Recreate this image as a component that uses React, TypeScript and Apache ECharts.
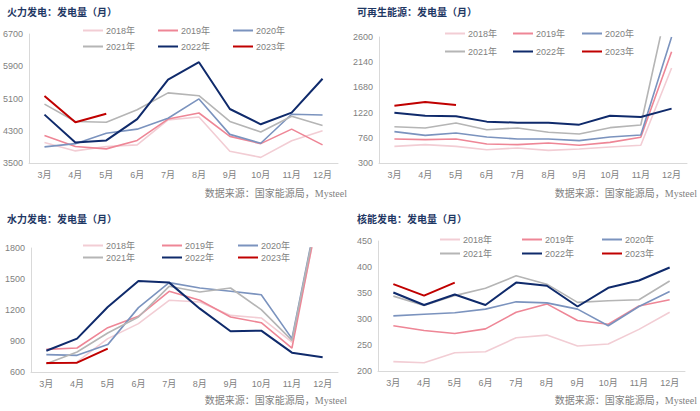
import React, { useEffect, useRef } from "react";
import * as echarts from "echarts";

const months = ["3月", "4月", "5月", "6月", "7月", "8月", "9月", "10月", "11月", "12月"];
const years = ["2018年", "2019年", "2020年", "2021年", "2022年", "2023年"];

// 火力发电
const thermal2018 = [4010, 3800, 3910, 3950, 4570, 4640, 3790, 3640, 4050, 4300];
const thermal2019 = [4180, 3910, 3850, 4060, 4590, 4740, 4160, 3980, 4340, 3950];
const thermal2020 = [3900, 3980, 4240, 4340, 4610, 5090, 4210, 3990, 4710, 4690];
const thermal2021 = [4960, 4530, 4510, 4820, 5240, 5170, 4530, 4270, 4660, 4430];
const thermal2022 = [4700, 4010, 4060, 4590, 5570, 6000, 4840, 4460, 4750, 5590];
const thermal2023 = [5160, 4510, 4720];

// 可再生能源
const renew2018 = [604, 635, 604, 543, 574, 531, 556, 592, 623, 2034];
const renew2019 = [738, 726, 738, 647, 635, 665, 623, 677, 769, 2330];
const renew2020 = [872, 805, 848, 775, 738, 738, 708, 775, 811, 2600];
const renew2021 = [963, 939, 1030, 908, 939, 860, 829, 945, 994, 3540];
const renew2022 = [1219, 1164, 1152, 1055, 1036, 1036, 1000, 1164, 1140, 1292];
const renew2023 = [1347, 1414, 1359];

// 水力发电
const hydro2018 = [680, 697, 923, 1068, 1294, 1277, 1148, 1123, 890, 2300];
const hydro2019 = [819, 832, 1029, 1139, 1381, 1294, 1132, 1077, 832, 2350];
const hydro2020 = [768, 761, 865, 1223, 1465, 1413, 1381, 1348, 923, 2400];
const hydro2021 = [681, 794, 977, 1132, 1429, 1374, 1413, 1203, 906, 2380];
const hydro2022 = [806, 923, 1229, 1481, 1465, 1213, 994, 1000, 787, 742];
const hydro2023 = [687, 690, 826];

// 核能发电
const nuclear2018 = [218, 216, 235, 237, 264, 269, 248, 252, 280, 313];
const nuclear2019 = [287, 278, 272, 281, 313, 329, 297, 290, 325, 337];
const nuclear2020 = [306, 309, 312, 319, 333, 331, 319, 287, 324, 353];
const nuclear2021 = [344, 326, 345, 359, 383, 367, 332, 335, 337, 373];
const nuclear2022 = [351, 327, 347, 327, 370, 364, 324, 360, 374, 399];
const nuclear2023 = [367, 345, 370];

const panelTitles = ["火力发电：发电量（月）", "可再生能源：发电量（月）", "水力发电：发电量（月）", "核能发电：发电量（月）"];
const yMin = [3500, 300, 600, 200];
const yMax = [6700, 2600, 1800, 450];
const yInterval = [800, 460, 300, 50];
const sourceText = "数据来源：国家能源局，Mysteel";

const panelData = [
  [thermal2018, thermal2019, thermal2020, thermal2021, thermal2022, thermal2023],
  [renew2018, renew2019, renew2020, renew2021, renew2022, renew2023],
  [hydro2018, hydro2019, hydro2020, hydro2021, hydro2022, hydro2023],
  [nuclear2018, nuclear2019, nuclear2020, nuclear2021, nuclear2022, nuclear2023],
];

const colors = ["#F2CDD4", "#EE8696", "#7B93BE", "#B5B5B5", "#0F2A6B", "#C00000"];
const widths = [1.6, 1.6, 1.6, 1.6, 2, 2];

// layout
const grids = [
  { left: 28, top: 34, width: 310, height: 129 },
  { left: 379, top: 37, width: 308, height: 126 },
  { left: 31, top: 248, width: 307, height: 124 },
  { left: 378, top: 241, width: 307, height: 130 },
];
const titlePos = [
  { left: 7, top: 6 },
  { left: 357, top: 6 },
  { left: 7, top: 213 },
  { left: 357, top: 213 },
];
const legendCols = [
  [83, 158, 233],
  [445, 513, 582],
  [83, 162, 238],
  [440, 522, 602],
];
const legendRows = [
  [32, 48],
  [35, 53],
  [247, 259],
  [241, 255],
];
const sourcePos = [
  { x: 347, y: 193 },
  { x: 697, y: 193 },
  { x: 347, y: 400 },
  { x: 697, y: 400 },
];

export default function App() {
  const ref = useRef<HTMLDivElement>(null);
  useEffect(() => {
    if (!ref.current) return;
    const chart = echarts.init(ref.current, null, { renderer: "svg" });
    const series: any[] = [];
    const legends: any[] = [];
    for (let p = 0; p < 4; p++) {
      for (let s = 0; s < 6; s++) {
        series.push({
          type: "line",
          name: years[s],
          xAxisIndex: p,
          yAxisIndex: p,
          data: panelData[p][s],
          symbol: "none",
          clip: true,
          z: s === 5 ? 10 : 2 + s,
          lineStyle: { color: colors[s], width: widths[s] },
          itemStyle: { color: colors[s] },
        });
        legends.push({
          data: [years[s]],
          left: legendCols[p][s % 3],
          top: legendRows[p][Math.floor(s / 3)] - 6,
          icon: "rect",
          itemWidth: 20,
          itemHeight: 2,
          itemGap: 0,
          padding: 0,
          selectedMode: false,
          textStyle: { color: "#7F7F7F", fontSize: 9, fontFamily: "Liberation Sans, Noto Sans CJK SC", padding: [0, 0, 0, -2] },
        });
      }
    }
    const option: any = {
      animation: false,
      backgroundColor: "#ffffff",
      title: panelTitles.map((t, i) => ({
        text: t,
        left: titlePos[i].left,
        top: titlePos[i].top,
        padding: 0,
        textStyle: { color: "#1F3864", fontSize: 10, fontWeight: "bold", fontFamily: "Noto Sans CJK SC" },
      })),
      legend: legends,
      grid: grids.map((g) => ({ ...g, containLabel: false })),
      xAxis: grids.map((_, i) => ({
        type: "category",
        gridIndex: i,
        data: months,
        boundaryGap: true,
        axisLine: { show: true, lineStyle: { color: "#D9D9D9", width: 1 } },
        axisTick: { show: false },
        axisLabel: { color: "#7F7F7F", fontSize: 9, margin: 7, fontFamily: "Liberation Sans, Noto Sans CJK SC" },
        splitLine: { show: false },
      })),
      yAxis: grids.map((_, i) => ({
        type: "value",
        gridIndex: i,
        min: yMin[i],
        max: yMax[i],
        interval: yInterval[i],
        axisLine: { show: true, lineStyle: { color: "#D9D9D9", width: 1 } },
        axisTick: { show: false },
        splitLine: { show: false },
        axisLabel: {
          color: "#7F7F7F",
          fontSize: 9,
          margin: 6,
          fontFamily: "Liberation Sans",
          formatter: (v: number) => String(v),
        },
      })),
      graphic: sourcePos.map((sp) => ({
        type: "text",
        x: sp.x,
        y: sp.y,
        style: {
          text: sourceText,
          fill: "#7F7F7F",
          fontSize: 10,
          fontFamily: "Liberation Serif, Noto Sans CJK SC",
          textAlign: "right",
          textVerticalAlign: "middle",
        },
      })),
      series,
    };
    chart.setOption(option);
    return () => chart.dispose();
  }, []);
  return <div ref={ref} style={{ position: "fixed", left: 0, top: 0, width: 700, height: 411 }} />;
}
